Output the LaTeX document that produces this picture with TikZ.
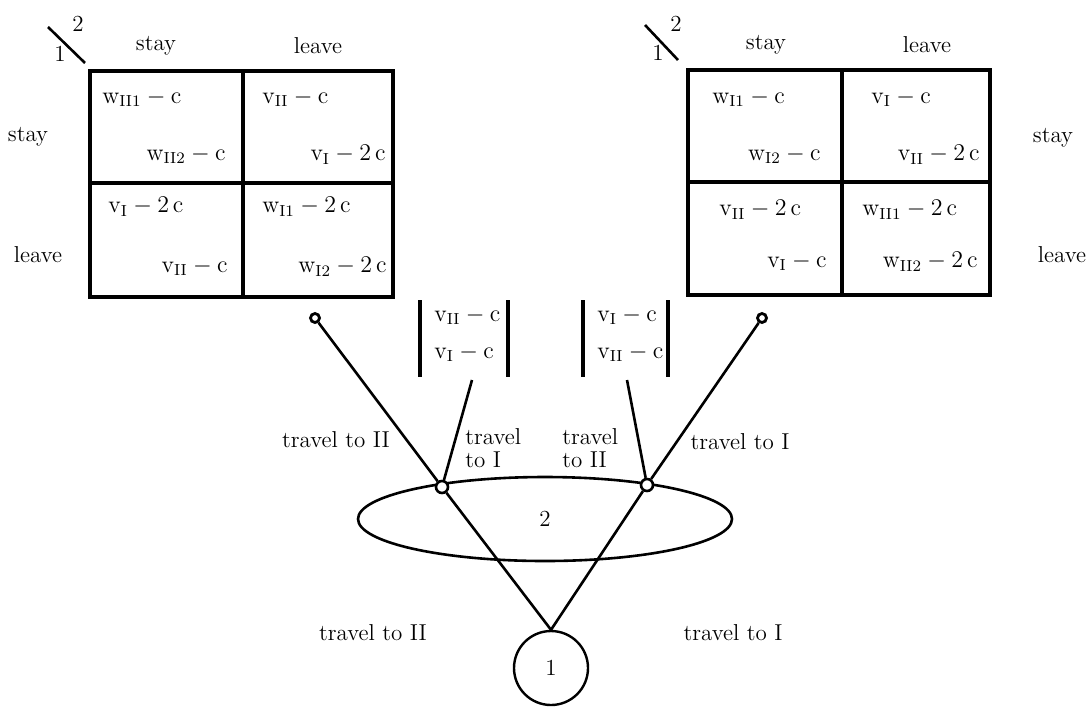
\documentclass[tikz,border=0pt]{standalone}
\usetikzlibrary{shapes.geometric}
\newcommand{\vsub}[1]{\mathrm{v}_{\mathrm{#1}}}
\newcommand{\wsub}[1]{\mathrm{w}_{\mathrm{#1}}}
\newcommand{\cc}{\mathrm{c}}
\begin{document}
\begin{tikzpicture}[x=0.5pt,y=-0.5pt,
  lbl/.style={font=\fontsize{11.5}{11.5}\selectfont, inner sep=0pt},
  cellw/.style={lbl, anchor=west},
  celle/.style={lbl, anchor=east},
  mline/.style={line width=1.6pt},
  edge/.style={line width=1.3pt},
  term/.style={circle, draw, line width=1.4pt, inner sep=0pt, minimum size=4.5pt, fill=white},
  infonode/.style={circle, draw, line width=1.3pt, inner sep=0pt, minimum size=6pt, fill=white},
  infoset/.style={ellipse, draw, line width=1.3pt, inner sep=0pt, minimum width=187pt, minimum height=42pt, font=\fontsize{11.5}{11.5}\selectfont},
  rootnode/.style={circle, draw, line width=1.2pt, inner sep=0pt, minimum size=37pt, font=\fontsize{11.5}{11.5}\selectfont}
]
\useasboundingbox (0,0) rectangle (1090,707);

% ---------- left matrix ----------
\draw[mline] (90,71) rectangle (393,297);
\draw[mline] (243,71) -- (243,297);
\draw[mline] (90,183) -- (393,183);
\draw[line width=1.3pt] (48,27) -- (85,63);
\node[lbl] (lt2) at (78,24) {2};
\node[lbl] (lt1) at (60,54) {1};
\node[lbl] (lhs) at (156,46) {stay};
\node[lbl] (lhl) at (318,46) {leave};
\node[lbl] (lrs) at (28,137) {stay};
\node[lbl] (lrl) at (38,255) {leave};
\node[cellw] (l11a) at (102,98) {$\wsub{II1}-\cc$};
\node[celle] (l11b) at (226,155) {$\wsub{II2}-\cc$};
\node[cellw] (l12a) at (262,98) {$\vsub{II}-\cc$};
\node[celle] (l12b) at (386,155) {$\vsub{I}-2\,\cc$};
\node[cellw] (l21a) at (108,207) {$\vsub{I}-2\,\cc$};
\node[celle] (l21b) at (228,267) {$\vsub{II}-\cc$};
\node[cellw] (l22a) at (262,207) {$\wsub{I1}-2\,\cc$};
\node[celle] (l22b) at (387,267) {$\wsub{I2}-2\,\cc$};

% ---------- right matrix ----------
\draw[mline] (688,70) rectangle (990,295);
\draw[mline] (842,70) -- (842,295);
\draw[mline] (688,182) -- (990,182);
\draw[line width=1.3pt] (645,25) -- (678,60);
\node[lbl] (rt2) at (676,24) {2};
\node[lbl] (rt1) at (658,53) {1};
\node[lbl] (rhs) at (766,45) {stay};
\node[lbl] (rhl) at (927,45) {leave};
\node[lbl] (rrs) at (1053,138) {stay};
\node[lbl] (rrl) at (1062,255) {leave};
\node[cellw] (r11a) at (712,98) {$\wsub{I1}-\cc$};
\node[celle] (r11b) at (821,155) {$\wsub{I2}-\cc$};
\node[cellw] (r12a) at (871,98) {$\vsub{I}-\cc$};
\node[celle] (r12b) at (980,155) {$\vsub{II}-2\,\cc$};
\node[cellw] (r21a) at (719,210) {$\vsub{II}-2\,\cc$};
\node[celle] (r21b) at (827,262) {$\vsub{I}-\cc$};
\node[cellw] (r22a) at (862,210) {$\wsub{II1}-2\,\cc$};
\node[celle] (r22b) at (978,262) {$\wsub{II2}-2\,\cc$};

% ---------- payoff vectors ----------
\draw[mline] (420,300) -- (420,377);
\draw[mline] (508,300) -- (508,377);
\node[cellw] (pa1) at (434,316) {$\vsub{II}-\cc$};
\node[cellw] (pa2) at (434,353) {$\vsub{I}-\cc$};
\draw[mline] (583,300) -- (583,377);
\draw[mline] (668,300) -- (668,377);
\node[cellw] (pb1) at (597,316) {$\vsub{I}-\cc$};
\node[cellw] (pb2) at (597,353) {$\vsub{II}-\cc$};

% ---------- tree ----------
\node[infoset] (info) at (545,519) {2};
\node[infonode] (na) at (442,487) {};
\node[infonode] (nb) at (647,485) {};
\node[term] (tl) at (315,318) {};
\node[term] (tr) at (762,318) {};
\node[rootnode] (root) at (551,668) {1};
\coordinate (va) at (472,380);
\coordinate (vb) at (627,380);

\draw[edge] (tl) -- (na);
\draw[edge] (na) -- (va);
\draw[edge] (nb) -- (vb);
\draw[edge] (tr) -- (nb);
\draw[edge] (root.north) -- (na);
\draw[edge] (root.north) -- (nb);

\node[lbl] (e1) at (336,440) {travel to II};
\node[lbl, anchor=west, align=left] (e2) at (465,448) {travel\\to I};
\node[lbl, anchor=west, align=left] (e3) at (562,448) {travel\\to II};
\node[lbl] (e4) at (740,442) {travel to I};
\node[lbl] (e5) at (373,633) {travel to II};
\node[lbl] (e6) at (733,633) {travel to I};
\end{tikzpicture}
\end{document}
